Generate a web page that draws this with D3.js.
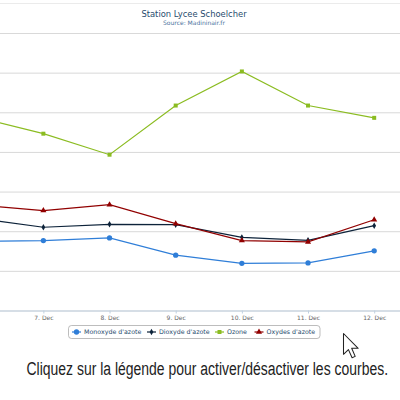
<!DOCTYPE html>
<html>
<head>
<meta charset="utf-8">
<script src="https://cdn.jsdelivr.net/npm/d3@7"></script>
<style>
  body { margin: 0; background: #fff; }
  svg { display: block; }
  .x-axis text { fill: #666; font-size: 6px; font-family: "DejaVu Sans", sans-serif; }
  .legend-item text { fill: #274b6d; font-size: 6.3px; font-family: "DejaVu Sans", sans-serif; }
</style>
</head>
<body>
<svg id="chart"></svg>
<script>
// values (µg/m3), one entry per day
const days = ['6. Dec', '7. Dec', '8. Dec', '9. Dec', '10. Dec', '11. Dec', '12. Dec'];
const monoxyde = [34.8, 35.3, 36.6, 27.9, 23.8, 24.0, 30.1];
const dioxyde = [46.6, 42.0, 43.5, 43.3, 36.9, 35.4, 42.8];
const ozone = [97.6, 89.2, 78.6, 103.4, 120.6, 103.4, 97.2];
const oxydes = [53.2, 50.4, 53.4, 43.8, 35.3, 34.6, 45.8];
const yTicks = [0, 20, 40, 60, 80, 100, 120, 140];

const series = [
  { name: "Monoxyde d'azote", values: monoxyde, color: '#2f7ed8', symbol: d3.symbolCircle, size: 22 },
  { name: "Dioxyde d'azote", values: dioxyde, color: '#0d233a', symbol: d3.symbolDiamond, size: 12 },
  { name: 'Ozone', values: ozone, color: '#8bbc21', symbol: d3.symbolSquare, size: 16 },
  { name: "Oxydes d'azote", values: oxydes, color: '#910000', symbol: d3.symbolTriangle, size: 16 }
];

const width = 400, height = 400;
// the screenshot is cropped: the plot starts left of the window
const plot = { left: -48.6, right: 400, top: 33, bottom: 310.5 };

const svg = d3.select('#chart')
  .attr('width', width)
  .attr('height', height);

svg.append('rect').attr('width', width).attr('height', height).attr('fill', '#fff');

// faint frame line at the top of the chart container
svg.append('line')
  .attr('x1', 0).attr('x2', width)
  .attr('y1', 3.5).attr('y2', 3.5)
  .attr('stroke', '#ebebeb');

const xScale = d3.scalePoint()
  .domain(days)
  .range([plot.left, plot.right])
  .padding(0.39);

const yScale = d3.scaleLinear()
  .domain([0, 140])
  .range([plot.bottom, plot.top]);

// gridlines (labels fall outside the window)
const yAxisG = svg.append('g')
  .attr('class', 'axis y-axis')
  .attr('transform', `translate(${plot.left},0)`)
  .call(d3.axisLeft(yScale).tickValues(yTicks).tickSize(-(plot.right - plot.left)).tickFormat(''))
  .call(g => g.select('.domain').remove());
yAxisG.selectAll('.tick line').attr('stroke', '#d9d9d9').attr('stroke-width', 1);

// x axis, only the ticks that fall inside the window
const xAxisG = svg.append('g')
  .attr('class', 'axis x-axis')
  .attr('transform', `translate(0,${plot.bottom})`)
  .call(d3.axisBottom(xScale)
    .tickValues(days.filter(d => xScale(d) > 0))
    .tickSizeOuter(0).tickSizeInner(3).tickPadding(2));
xAxisG.select('.domain')
  .attr('d', `M${plot.left},0.5H${plot.right}`)
  .attr('stroke', '#c0d0e0');
xAxisG.selectAll('.tick line').attr('stroke', '#c0d0e0');

// title
svg.append('text')
  .attr('x', 194).attr('y', 17)
  .attr('text-anchor', 'middle')
  .attr('fill', '#274b6d')
  .style('font-family', '"DejaVu Sans", sans-serif')
  .style('font-size', '8.4px')
  .text('Station Lycee Schoelcher');

svg.append('text')
  .attr('x', 194).attr('y', 25)
  .attr('text-anchor', 'middle')
  .attr('fill', '#4d759e')
  .style('font-family', '"DejaVu Sans", sans-serif')
  .style('font-size', '6px')
  .text('Source: Madininair.fr');

// lines and markers
const line = d3.line()
  .x((d, i) => xScale(days[i]))
  .y(d => yScale(d));

series.forEach(s => {
  svg.append('path')
    .datum(s.values)
    .attr('fill', 'none')
    .attr('stroke', s.color)
    .attr('stroke-width', 1.2)
    .attr('d', line);

  svg.selectAll(null)
    .data(s.values)
    .join('path')
    .attr('transform', (d, i) => `translate(${xScale(days[i])},${yScale(d)})`)
    .attr('d', d3.symbol(s.symbol, s.size))
    .attr('fill', s.color);
});

// legend
const legend = svg.append('g').attr('transform', 'translate(68.5,325.5)');
legend.append('rect')
  .attr('width', 251.5).attr('height', 13)
  .attr('rx', 3)
  .attr('fill', '#fff')
  .attr('stroke', '#909090')
  .attr('stroke-width', 0.6);

const legendX = [8, 83, 151, 190.5];
series.forEach((s, i) => {
  const item = legend.append('g')
    .attr('class', 'legend-item')
    .attr('transform', `translate(${legendX[i]},6.5)`);
  item.append('line')
    .attr('x1', -4.5).attr('x2', 4.5)
    .attr('stroke', s.color).attr('stroke-width', 1.2);
  item.append('path')
    .attr('d', d3.symbol(s.symbol, s.size))
    .attr('fill', s.color);
  item.append('text')
    .attr('x', 7.5).attr('y', 2.3)
    .text(s.name);
});

// mouse pointer
svg.append('path')
  .attr('transform', 'translate(343.5,333.5) scale(1.3)')
  .attr('d', 'M0,0 L0,16 L3.8,12.4 L6.6,18.6 L9,17.6 L6.3,11.4 L11.3,11.4 Z')
  .attr('fill', '#fff')
  .attr('stroke', '#222')
  .attr('stroke-width', 0.8)
  .attr('stroke-linejoin', 'round');

// caption, squeezed horizontally to the condensed look of the original
const caption = svg.append('text')
  .attr('x', 0).attr('y', 0)
  .attr('fill', '#222')
  .style('font-family', '"Liberation Sans Narrow", "Liberation Sans", sans-serif')
  .style('font-size', '19px')
  .text('Cliquez sur la légende pour activer/désactiver les courbes.');
const captionW = caption.node().getComputedTextLength();
caption.attr('transform', `translate(26.5,375) scale(${362 / captionW},1)`);
</script>
</body>
</html>
